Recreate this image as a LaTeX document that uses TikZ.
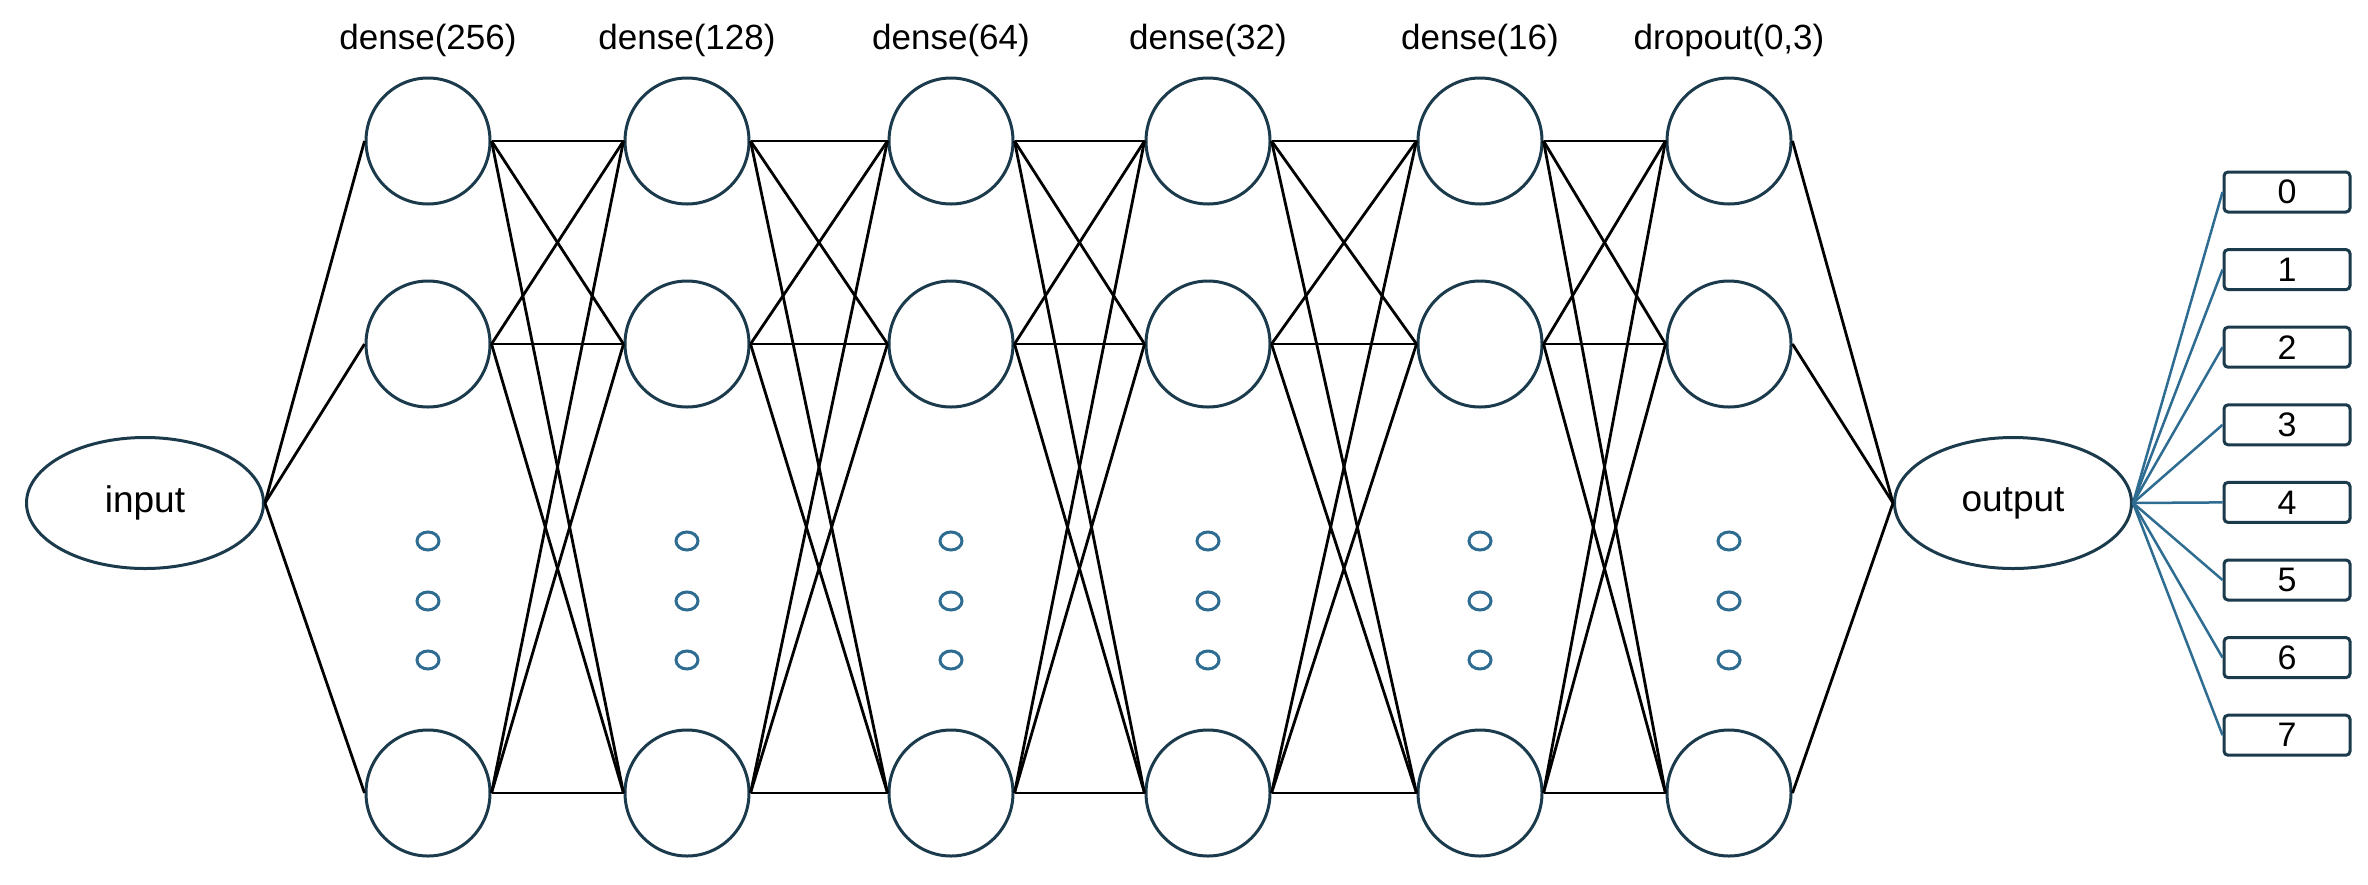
\documentclass[tikz,border=0pt]{standalone}
\usepackage{fontspec}
\setmainfont{Liberation Sans}
\usetikzlibrary{shapes.geometric}
\definecolor{edge}{HTML}{1B3B4D}
\definecolor{dotc}{HTML}{2E6C92}
\begin{document}
\begin{tikzpicture}[x=1pt,y=-1pt,
  neuron/.style={ellipse,draw=edge,line width=3pt,minimum width=124pt,minimum height=126pt,inner sep=0},
  io/.style={ellipse,draw=edge,line width=3pt,minimum width=237pt,minimum height=131pt,inner sep=0,font=\fontsize{37}{40}\selectfont},
  dotn/.style={ellipse,draw=dotc,line width=3pt,minimum width=22pt,minimum height=18pt,inner sep=0},
  cls/.style={rectangle,rounded corners=4pt,draw=edge,line width=3pt,minimum width=126pt,minimum height=40pt,inner sep=0,font=\fontsize{34}{36}\selectfont},
  lbl/.style={font=\fontsize{35}{38}\selectfont},
  conn/.style={line width=2.8pt,black},
  bconn/.style={line width=2.5pt,dotc}]
\useasboundingbox (0,0) rectangle (2368,884);
\node[io] (in) at (145,503) {input};
\node[io] (out) at (2013,503) {output};
\foreach \i/\x/\t in {1/428/dense(256),2/687/dense(128),3/951/dense(64),4/1208/dense(32),5/1480/dense(16),6/1729/{dropout(0,3)}}{
  \node[neuron] (n\i a) at (\x,141) {};
  \node[neuron] (n\i b) at (\x,344) {};
  \node[neuron] (n\i c) at (\x,793) {};
  \node[lbl] (l\i) at (\x,40) {\t};
  \node[dotn] (d\i a) at (\x,541) {};
  \node[dotn] (d\i b) at (\x,601) {};
  \node[dotn] (d\i c) at (\x,660) {};
}
\foreach \s in {a,b,c}{
  \draw[conn] (in.east) -- (n1\s.west);
  \draw[conn] (n6\s.east) -- (out.west);
}
\foreach \i [evaluate=\i as \j using int(\i+1)] in {1,...,5}{
  \foreach \s in {a,b,c}{
    \foreach \t in {a,b,c}{
      \draw[conn] (n\i\s.east) -- (n\j\t.west);
    }
  }
}
\foreach \k in {0,...,7}{
  \node[cls] (c\k) at (2287,{192+77.6*\k}) {\k};
  \draw[bconn] (out.east) -- (c\k.west);
}
\end{tikzpicture}
\end{document}
